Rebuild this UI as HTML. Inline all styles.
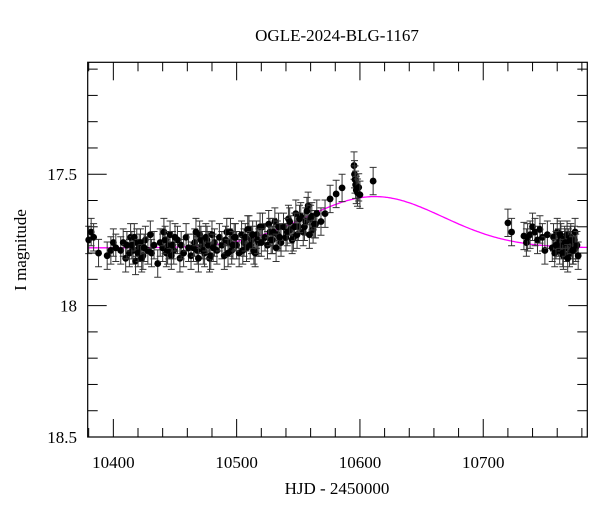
<!DOCTYPE html>
<html><head><meta charset="utf-8"><style>
html,body{margin:0;padding:0;background:#fff;}
svg{display:block;font-family:"Liberation Serif",serif;}
</style></head><body>
<svg id="chart" width="600" height="512" viewBox="0 0 600 512" xmlns="http://www.w3.org/2000/svg">
<text x="337" y="41" font-size="17" text-anchor="middle">OGLE-2024-BLG-1167</text>
<text x="337" y="494" font-size="17" text-anchor="middle">HJD - 2450000</text>
<text transform="translate(26,250) rotate(-90)" font-size="17" text-anchor="middle">I magnitude</text>
<g id="axes"></g>
<g id="model"></g>
<g id="points"></g>
<rect x="87.7" y="62.3" width="499.6" height="374.7" fill="none" stroke="#000" stroke-width="1.2"/>
</svg>
<script>
const times=[10380,10382,10384,10388,10395,10398,10400,10402,10406,10408,10410,10411,10413,10414,10416,10418,10419,10421,10424,10426,10428,10430,10431,10433,10436,10438,10440,10441,10443,10445,10449,10452,10454,10455,10457,10459,10461,10463,10466,10468,10470,10472,10474,10476,10478,10482,10484,10486,10488,10490,10492,10494,10496,10498,10500,10502,10504,10506,10508,10510,10512,10514,10516,10518,10521,10523,10525,10527,10529,10531,10533,10536,10538,10540,10542,10544,10546,10548,10550,10552,10554,10556,10558,10560,10562,10564,
10568.4,10571.7,10575.8,10580.7,10585.5,10595.2,10595.6,10596,10596.5,10597,10598,10599,10600,10610.7,
10720,10723,10733,10735,10736,10738,10740,10742,10744,10746,10748,10750,10752,10756,10757,10758,10760,10761,10762,10763,10764,10765,10766,10767,10768,10769,10770,10771,10772,10773,10774,10775];
const mags=[17.75,17.72,17.74,17.80,17.81,17.79,17.76,17.78,17.79,17.76,17.82,17.77,17.80,17.74,17.79,17.83,17.76,17.78,17.81,17.75,17.79,17.73,17.80,17.77,17.84,17.76,17.78,17.72,17.80,17.77,17.79,17.75,17.82,17.77,17.80,17.74,17.78,17.81,17.76,17.79,17.73,17.77,17.80,17.75,17.82,17.76,17.79,17.74,17.77,17.81,17.72,17.76,17.79,17.74,17.77,17.80,17.73,17.76,17.78,17.71,17.75,17.79,17.73,17.76,17.70,17.74,17.77,17.72,17.75,17.68,17.73,17.76,17.70,17.74,17.67,17.71,17.74,17.65,17.70,17.66,17.72,17.68,17.62,17.67,17.71,17.69,
17.68,17.65,17.594,17.575,17.552,17.467,17.50,17.52,17.54,17.56,17.57,17.55,17.578,17.526,
17.685,17.72,17.735,17.76,17.74,17.73,17.70,17.72,17.75,17.71,17.74,17.79,17.73,17.78,17.74,17.80,17.72,17.76,17.79,17.74,17.77,17.81,17.75,17.78,17.73,17.76,17.80,17.74,17.77,17.79,17.75,17.78];
const times2=[10415,10417,10420,10422,10423,10425,10442,10444,10446,10447,10448,10450,10465,10467,10469,10471,10473,10475,10477,10479,10480,10481,10491,10493,10495,10497,10499,10505,10507,10509,10511,10513,10515,10517,10519,10520,10526,10528,10530,10532,10534,10535,10541,10543,10545,10547,10549,10551,10555,10557,10559,10561,10563,10565,10759,10762.5,10764.5,10766.5,10768.5,10770.5,10772.5,10774.5,10776,10777];
const mags2=[17.77,17.74,17.80,17.76,17.82,17.78,17.75,17.79,17.73,17.81,17.77,17.74,17.78,17.72,17.82,17.75,17.79,17.74,17.77,17.81,17.73,17.78,17.75,17.80,17.72,17.77,17.74,17.79,17.74,17.71,17.77,17.73,17.80,17.75,17.70,17.76,17.69,17.75,17.72,17.78,17.70,17.74,17.72,17.68,17.75,17.70,17.73,17.67,17.70,17.64,17.73,17.66,17.69,17.65,17.77,17.73,17.80,17.76,17.82,17.75,17.79,17.72,17.77,17.81];
const errBar=0.052;
const xTicksMajor=[10400,10500,10600,10700];
const yTicksMajor=[17.5,18,18.5];
const yTickLabels=["17.5","18","18.5"];
const model={base:17.78,amp:0.195,t0:10612,width:55};

const X0=87.7,X1=587.3,Y0=62.3,Y1=437;
const xMin=10379.2,xMax=10784.4,yMin=17.074,yMax=18.5;
const sx=t=>X0+(t-xMin)/(xMax-xMin)*(X1-X0);
const sy=m=>Y0+(m-yMin)/(yMax-yMin)*(Y1-Y0);
const NS="http://www.w3.org/2000/svg";
function mk(tag,parent,attrs){const e=document.createElementNS(NS,tag);for(const k in attrs)e.setAttribute(k,attrs[k]);parent.appendChild(e);return e;}
const axes=document.getElementById('axes');
for(let t=10380;t<=xMax;t+=20){
  const maj=xTicksMajor.includes(t);const L=maj?18:9;const x=sx(t);
  const a=mk('line',axes,{x1:x,y1:Y1,x2:x,y2:Y1-L,stroke:'#000','stroke-width':1});
  
  
  const b=mk('line',axes,{x1:x,y1:Y0,x2:x,y2:Y0+L,stroke:'#000','stroke-width':1});
  
  
}
xTicksMajor.forEach(t=>{
  const tx=mk('text',axes,{x:sx(t),y:468,'font-size':17,'text-anchor':'middle'});tx.textContent=String(t);
  
  
});
for(let i=1;i<=14;i++){
  const m=17.0+i*0.1;if(m<yMin||m>yMax+0.001)continue;
  const maj=Math.abs(m*2-Math.round(m*2))<1e-6;const L=maj?19:10;const y=sy(m);
  const a=mk('line',axes,{x1:X0,y1:y,x2:X0+L,y2:y,stroke:'#000','stroke-width':1});
  
  
  const b=mk('line',axes,{x1:X1,y1:y,x2:X1-L,y2:y,stroke:'#000','stroke-width':1});
  
  
}
yTicksMajor.forEach((m,i)=>{
  const tx=mk('text',axes,{x:77,y:sy(m)+6,'font-size':17,'text-anchor':'end'});tx.textContent=yTickLabels[i];
  
  
});
let d='';
for(let t=xMin;t<=xMax;t+=1){const dt=(t-model.t0)/model.width;const m=model.base-model.amp*Math.exp(-dt*dt/2);d+=(d?'L':'M')+sx(t).toFixed(1)+','+sy(m).toFixed(1);}
const mp=mk('path',document.getElementById('model'),{d:d,fill:'none',stroke:'#ff00ff','stroke-width':1.3});


const pg=document.getElementById('points');
function drawPoint(t,mag){
  const x=sx(t),y=sy(mag),y1=sy(mag-errBar),y2=sy(mag+errBar);
  const g=mk('g',pg,{});
  
  
  mk('path',g,{d:`M${x},${y1}L${x},${y2}M${x-3.5},${y1}L${x+3.5},${y1}M${x-3.5},${y2}L${x+3.5},${y2}`,stroke:'#333','stroke-width':1,fill:'none'});
  mk('circle',g,{cx:x,cy:y,r:3.4,fill:'#000'});
}
times.forEach((t,i)=>drawPoint(t,mags[i]));
times2.forEach((t,i)=>drawPoint(t,mags2[i]));
</script>
</body></html>
